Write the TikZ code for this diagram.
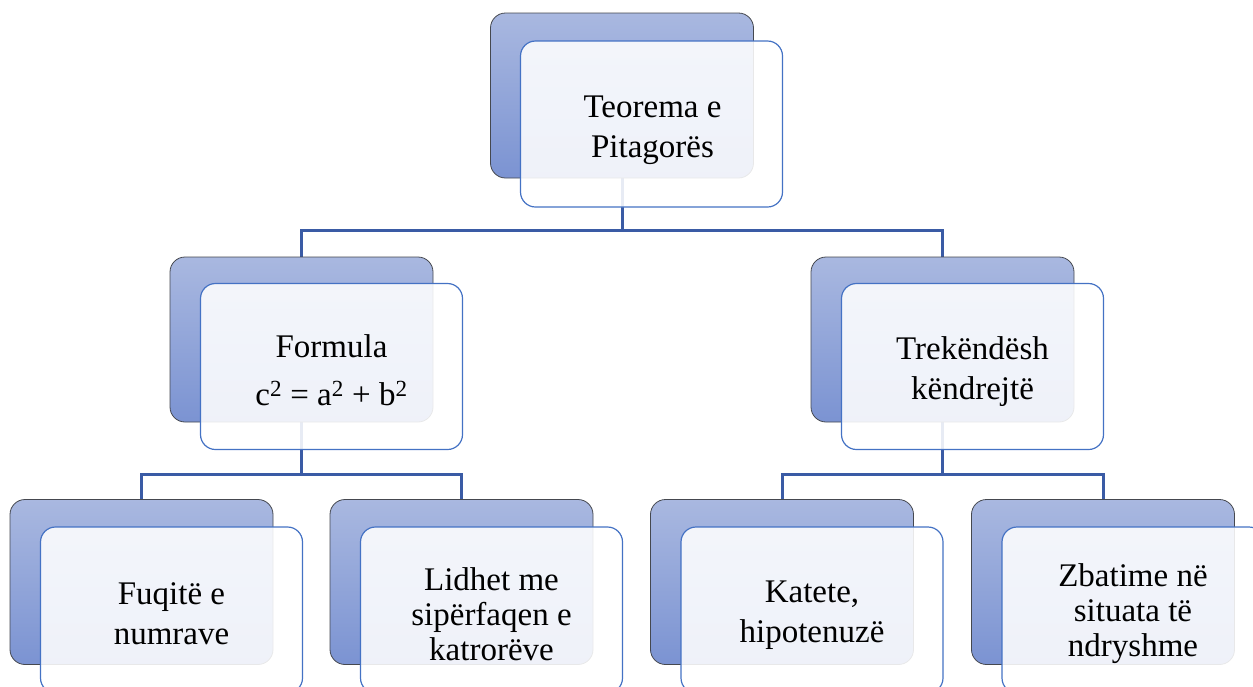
\documentclass[tikz,border=0pt]{standalone}
\usepackage{fontspec}
\setmainfont{Liberation Serif}
\usetikzlibrary{backgrounds}
\definecolor{backtop}{HTML}{A9B8E0}
\definecolor{backbot}{HTML}{7B93D2}
\definecolor{backedge}{HTML}{45484F}
\definecolor{frontedge}{HTML}{4472C4}
\definecolor{connblue}{HTML}{3A5BA5}
\tikzset{
  backbox/.style={rounded corners=15pt, draw=backedge, line width=0.8pt,
    top color=backtop, bottom color=backbot,
    minimum width=263pt, minimum height=165pt, inner sep=0pt},
  frontbox/.style={rounded corners=15pt, draw=frontedge, line width=1.2pt,
    fill=white, fill opacity=0.88,
    minimum width=262pt, minimum height=166pt, inner sep=0pt},
  lbl/.style={align=center, inner sep=0pt, font=\fontsize{33}{40}\selectfont},
  lblthree/.style={lbl, font=\fontsize{33}{35}\selectfont},
  conn/.style={draw=connblue, line width=3pt}
}
\begin{document}
\begin{tikzpicture}[x=1pt,y=-1pt]
\useasboundingbox (0,0) rectangle (1253,686);
\clip (0,0) rectangle (1253,686);

% back panels
\node[backbox] (tb) at (622,95.5) {};
\node[backbox] (lb) at (301.5,339.5) {};
\node[backbox] (rb) at (942.5,339.5) {};
\node[backbox] (b1b) at (141.5,582) {};
\node[backbox] (b2b) at (461.5,582) {};
\node[backbox] (b3b) at (782,582) {};
\node[backbox] (b4b) at (1103,582) {};

% translucent front panels
\node[frontbox] (tf) at ([shift={(29.5,28.5)}]tb.center) {};
\node[frontbox] (lf) at ([shift={(30,27)}]lb.center) {};
\node[frontbox] (rf) at ([shift={(30,27)}]rb.center) {};
\node[frontbox] (b1f) at ([shift={(30,28)}]b1b.center) {};
\node[frontbox] (b2f) at ([shift={(30,28)}]b2b.center) {};
\node[frontbox] (b3f) at ([shift={(30,28)}]b3b.center) {};
\node[frontbox] (b4f) at ([shift={(30,28)}]b4b.center) {};

% labels, set a little below the panel centres
\node[lbl] (tt) at ([shift={(1,6)}]tf.center) {Teorema e\\Pitagorës};
\node[lbl] (lt) at ([shift={(0,4)}]lf.center) {Formula\\[8pt]c\textsuperscript{2} = a\textsuperscript{2} + b\textsuperscript{2}};
\node[lbl] (rt) at ([shift={(0,5)}]rf.center) {Trekëndësh\\këndrejtë};
\node[lbl] (b1t) at ([shift={(0,4)}]b1f.center) {Fuqitë e\\numrave};
\node[lblthree] (b2t) at ([shift={(0,4)}]b2f.center) {Lidhet me\\sipërfaqen e\\katrorëve};
\node[lbl] (b3t) at ([shift={(0,5)}]b3f.center) {Katete,\\hipotenuzë};
\node[lblthree] (b4t) at ([shift={(0,4)}]b4f.center) {Zbatime në\\situata të\\ndryshme};

% bus levels of the tree
\coordinate (bus1) at (0,230);
\coordinate (bus2) at (0,474);

\begin{scope}[on background layer]
\draw[conn] (tb.center) -- (tb.center |- bus1) -| (lb.north);
\draw[conn] (tb.center) -- (tb.center |- bus1) -| (rb.north);
\draw[conn] (lb.center) -- (lb.center |- bus2) -| (b1b.north);
\draw[conn] (lb.center) -- (lb.center |- bus2) -| (b2b.north);
\draw[conn] (rb.center) -- (rb.center |- bus2) -| (b3b.north);
\draw[conn] (rb.center) -- (rb.center |- bus2) -| (b4b.north);
\end{scope}
\end{tikzpicture}
\end{document}
